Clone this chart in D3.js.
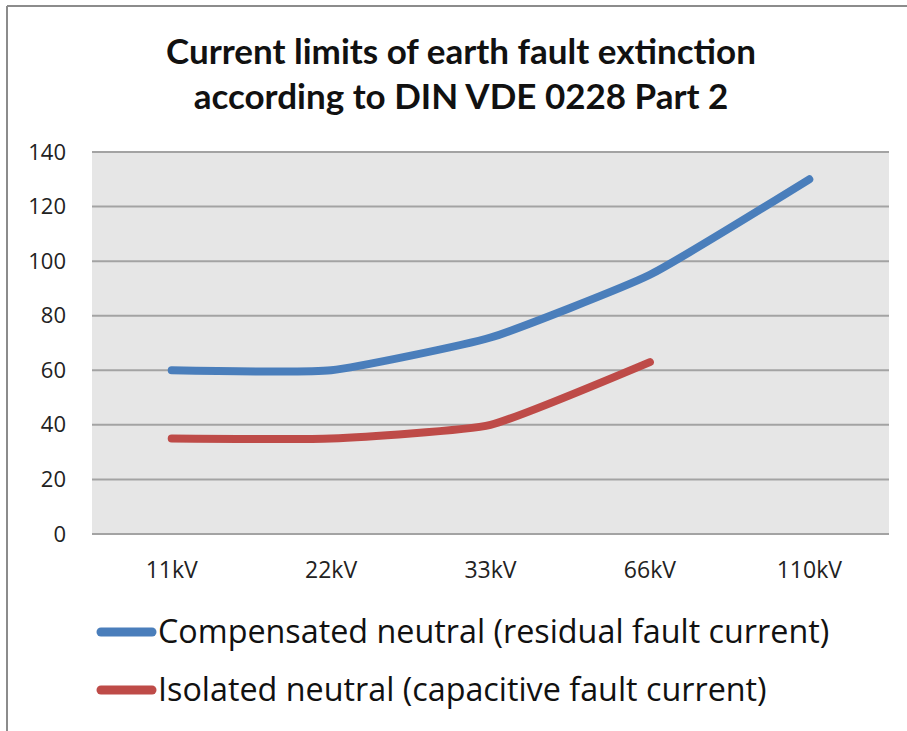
<!DOCTYPE html>
<html>
<head>
<meta charset="utf-8">
<script src="https://cdn.jsdelivr.net/npm/d3@7"></script>
<style>
  html, body { margin: 0; padding: 0; background: #fff; }
  svg { display: block; }
</style>
</head>
<body>
<svg id="chart" width="907" height="731"></svg>
<script>
const categories = ["11kV", "22kV", "33kV", "66kV", "110kV"];
const compensated = [60, 60, 72, 95, 130];
const isolated = [35, 35, 40, 63];
const yTicks = [0, 20, 40, 60, 80, 100, 120, 140];
const titleLines = ["Current limits of earth fault extinction", "according to DIN VDE 0228 Part  2"];
const seriesNames = ["Compensated neutral (residual fault current)", "Isolated neutral (capacitive fault current)"];
const seriesColors = ["#4A7EBB", "#BE4B48"];

const svg = d3.select("#chart");

// outer border (top and left visible)
svg.append("line").attr("x1", 7).attr("y1", 6).attr("x2", 907).attr("y2", 6)
  .attr("stroke", "#8c8c8c").attr("stroke-width", 2);
svg.append("line").attr("x1", 7).attr("y1", 6).attr("x2", 7).attr("y2", 731)
  .attr("stroke", "#8c8c8c").attr("stroke-width", 2);

const plot = {left: 92, right: 889, top: 152, bottom: 534};

const x = d3.scaleBand().domain(categories).range([plot.left, plot.right]);
const y = d3.scaleLinear().domain([0, 140]).range([plot.bottom, plot.top]);

svg.append("rect").attr("x", plot.left).attr("y", plot.top)
  .attr("width", plot.right - plot.left).attr("height", plot.bottom - plot.top)
  .attr("fill", "#E6E6E6");

// gridlines
svg.append("g").selectAll("line").data(yTicks).join("line")
  .attr("x1", plot.left).attr("x2", plot.right)
  .attr("y1", d => y(d)).attr("y2", d => y(d))
  .attr("stroke", "#A3A3A3").attr("stroke-width", 2);

// y axis labels
const yAxis = d3.axisLeft(y).tickValues(yTicks).tickSize(0).tickPadding(0);
const gy = svg.append("g").attr("transform", `translate(${plot.left - 26},0)`).call(yAxis);
gy.select(".domain").remove();
gy.selectAll("text").attr("font-family", "Open Sans").attr("font-size", 22).attr("fill", "#222");

// x axis labels
const xAxis = d3.axisBottom(x).tickSize(0).tickPadding(0);
const gx = svg.append("g").attr("transform", `translate(0,${plot.bottom + 28})`).call(xAxis);
gx.select(".domain").remove();
gx.selectAll("text").attr("font-family", "Open Sans").attr("font-size", 23).attr("fill", "#222");

// lines
const line = d3.line()
  .x((d, i) => x(categories[i]) + x.bandwidth() / 2)
  .y(d => y(d))
  .curve(d3.curveCardinal.tension(0.55));

[compensated, isolated].forEach((s, i) => {
  svg.append("path").datum(s).attr("d", line)
    .attr("fill", "none").attr("stroke", seriesColors[i])
    .attr("stroke-width", 8).attr("stroke-linecap", "round").attr("stroke-linejoin", "round");
});

// title
svg.append("text").attr("x", 461).attr("text-anchor", "middle")
  .attr("font-family", "Lato").attr("font-weight", "bold").attr("font-size", 35).attr("fill", "#111")
  .selectAll("tspan").data(titleLines).join("tspan")
  .attr("x", 461).attr("y", (d, i) => 64 + i * 45).text(d => d);

// legend
const legY = [632, 690];
seriesNames.forEach((name, i) => {
  svg.append("line").attr("x1", 101).attr("x2", 152).attr("y1", legY[i]).attr("y2", legY[i])
    .attr("stroke", seriesColors[i]).attr("stroke-width", 9).attr("stroke-linecap", "round");
  svg.append("text").attr("x", 158).attr("y", legY[i] + 11)
    .attr("font-family", "Open Sans").attr("font-size", 32.3).attr("fill", "#111").text(name);
});
</script>
</body>
</html>
